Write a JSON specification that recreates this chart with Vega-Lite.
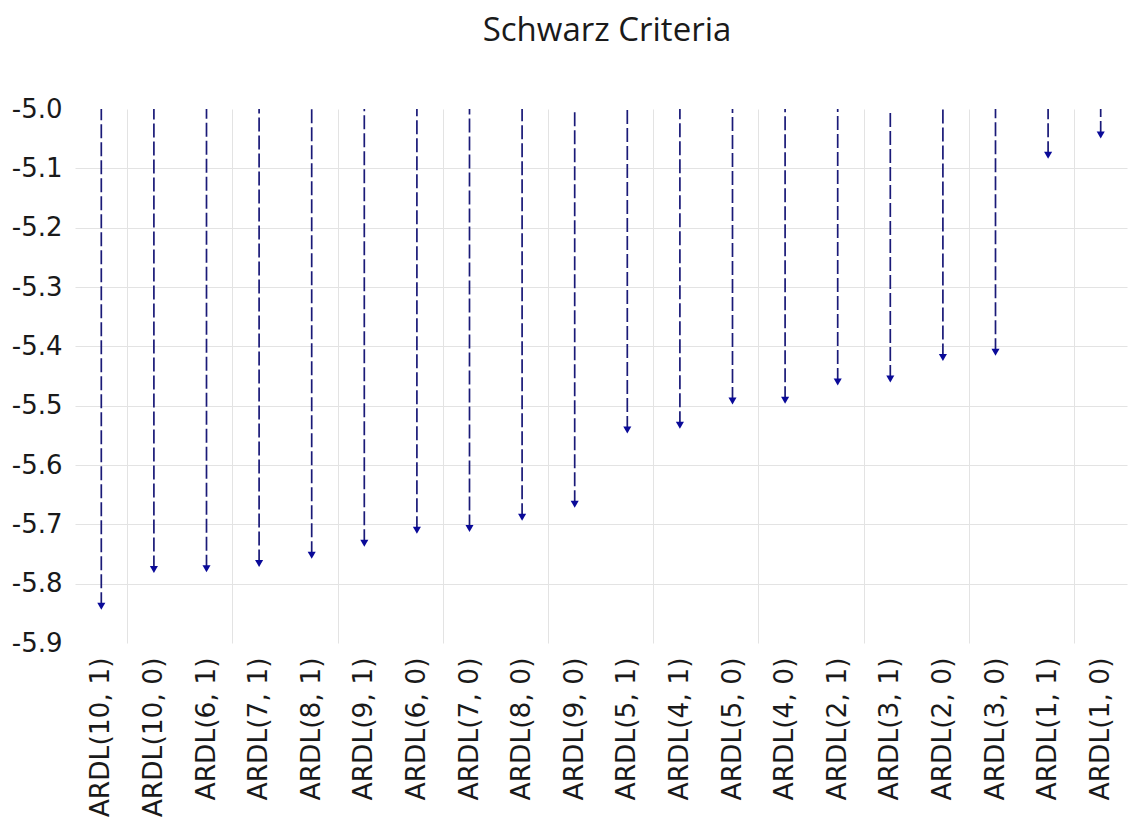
{
  "$schema": "https://vega.github.io/schema/vega-lite/v6.json",
  "autosize": "none",
  "padding": {"left": 75, "top": 109, "right": 9, "bottom": 182},
  "width": 1052,
  "height": 534,
  "background": "white",
  "title": {
    "text": "Schwarz Criteria",
    "font": "Open Sans",
    "fontSize": 33,
    "fontWeight": "normal",
    "color": "#1a1a1a",
    "anchor": "middle",
    "baseline": "bottom",
    "offset": 15,
    "dx": 6
  },
  "data": {
    "values": [
      {"model": "ARDL(10, 1)", "sc": -5.838},
      {"model": "ARDL(10, 0)", "sc": -5.776},
      {"model": "ARDL(6, 1)", "sc": -5.775},
      {"model": "ARDL(7, 1)", "sc": -5.766},
      {"model": "ARDL(8, 1)", "sc": -5.752},
      {"model": "ARDL(9, 1)", "sc": -5.732},
      {"model": "ARDL(6, 0)", "sc": -5.710},
      {"model": "ARDL(7, 0)", "sc": -5.707},
      {"model": "ARDL(8, 0)", "sc": -5.688},
      {"model": "ARDL(9, 0)", "sc": -5.666},
      {"model": "ARDL(5, 1)", "sc": -5.541},
      {"model": "ARDL(4, 1)", "sc": -5.533},
      {"model": "ARDL(5, 0)", "sc": -5.492},
      {"model": "ARDL(4, 0)", "sc": -5.491},
      {"model": "ARDL(2, 1)", "sc": -5.460},
      {"model": "ARDL(3, 1)", "sc": -5.455},
      {"model": "ARDL(2, 0)", "sc": -5.419},
      {"model": "ARDL(3, 0)", "sc": -5.410},
      {"model": "ARDL(1, 1)", "sc": -5.078},
      {"model": "ARDL(1, 0)", "sc": -5.044}
    ]
  },
  "encoding": {
    "x": {
      "field": "model",
      "type": "nominal",
      "sort": null,
      "scale": {"paddingInner": 0, "paddingOuter": 0},
      "axis": {
        "title": null,
        "labelAngle": -90,
        "labelAlign": "right",
        "labelBaseline": "middle",
        "labelFont": "DejaVu Sans",
        "labelFontSize": 26.5,
        "labelColor": "#1a1a1a",
        "labelPadding": 14,
        "ticks": false,
        "domain": false,
        "grid": true,
        "bandPosition": 1,
        "tickExtra": false,
        "gridColor": "#e3e3e3",
        "gridWidth": 1,
        "gridOpacity": {
          "condition": {
            "test": "indexof(['ARDL(10, 1)','ARDL(6, 1)','ARDL(8, 1)','ARDL(6, 0)','ARDL(8, 0)','ARDL(5, 1)','ARDL(5, 0)','ARDL(2, 1)','ARDL(2, 0)','ARDL(1, 1)'], datum.value) >= 0",
            "value": 1
          },
          "value": 0
        },
        "labelOverlap": false
      }
    }
  },
  "layer": [
    {
      "mark": {"type": "rule", "strokeDash": [14, 4], "strokeWidth": 1.7, "color": "#1a1a78"},
      "encoding": {
        "y": {
          "field": "sc",
          "type": "quantitative",
          "scale": {"domain": [-5.9, -5.0], "nice": false, "zero": false},
          "axis": {
            "title": null,
            "values": [-5.0, -5.1, -5.2, -5.3, -5.4, -5.5, -5.6, -5.7, -5.8, -5.9],
            "labelExpr": "replace(format(datum.value, '.1f'), '\u2212', '-')",
            "labelFont": "DejaVu Sans",
            "labelFontSize": 26,
            "labelColor": "#1a1a1a",
            "labelPadding": 13,
            "ticks": false,
            "domain": false,
            "grid": true,
            "gridColor": "#e3e3e3",
            "gridWidth": 1,
            "gridOpacity": {
              "condition": {"test": "datum.value > -5.05 || datum.value < -5.85", "value": 0},
              "value": 1
            }
          }
        },
        "y2": {"datum": -5.0}
      }
    },
    {
      "mark": {"type": "point", "shape": "triangle-down", "filled": true, "size": 65, "color": "#0a0a99", "opacity": 1},
      "encoding": {
        "y": {"field": "sc", "type": "quantitative"}
      }
    }
  ],
  "config": {
    "view": {"stroke": null}
  }
}
